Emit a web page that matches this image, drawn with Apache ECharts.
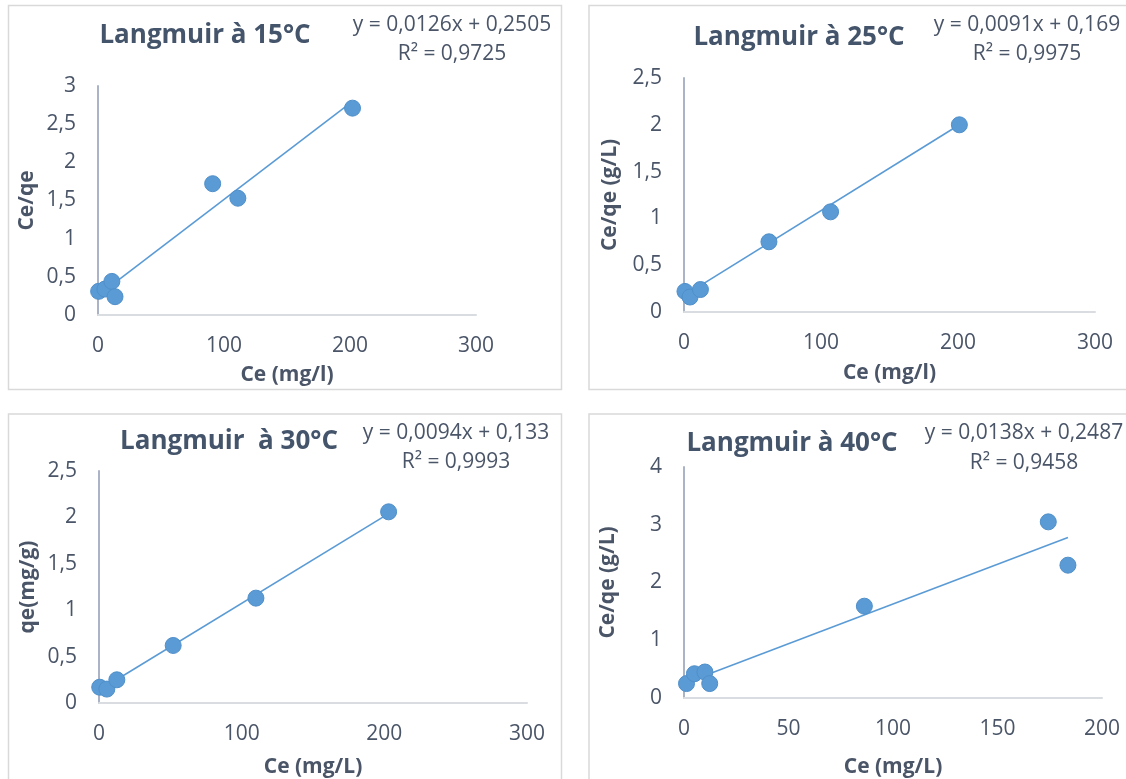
<!DOCTYPE html>
<html>
<head>
<meta charset="utf-8">
<script src="https://cdn.jsdelivr.net/npm/echarts@6/dist/echarts.min.js"></script>
<style>
  html, body { margin: 0; padding: 0; background: #fff; }
  #main { width: 1126px; height: 779px; }
</style>
</head>
<body>
<div id="main"></div>
<script>
const ce15 = [0.5, 5.5, 11, 13.5, 91, 111, 202];
const qe15 = [0.31, 0.34, 0.44, 0.24, 1.72, 1.53, 2.71];
const trend15 = [[0.5, 0.26], [202, 2.80]];

const ce25 = [0.7, 4.4, 12, 62, 107, 201];
const qe25 = [0.22, 0.16, 0.24, 0.75, 1.07, 2.0];
const trend25 = [[0.7, 0.18], [201, 2.0]];

const ce30 = [0.5, 5.5, 12.5, 52, 110, 203];
const qe30 = [0.17, 0.15, 0.25, 0.62, 1.13, 2.06];
const trend30 = [[0.5, 0.14], [203, 2.04]];

const ce40 = [1.2, 5, 10, 12.3, 86.3, 174.3, 183.7];
const qe40 = [0.25, 0.42, 0.45, 0.25, 1.59, 3.05, 2.30];
const trend40 = [[1.2, 0.27], [183.7, 2.78]];

const titles = ['Langmuir à 15°C', 'Langmuir à 25°C', 'Langmuir  à 30°C', 'Langmuir à 40°C'];
const equations = ['y = 0,0126x + 0,2505', 'y = 0,0091x + 0,169', 'y = 0,0094x + 0,133', 'y = 0,0138x + 0,2487'];
const r2 = ['R² = 0,9725', 'R² = 0,9975', 'R² = 0,9993', 'R² = 0,9458'];
const xNames = ['Ce (mg/l)', 'Ce (mg/l)', 'Ce (mg/L)', 'Ce (mg/L)'];
const yNames = ['Ce/qe', 'Ce/qe (g/L)', 'qe(mg/g)', 'Ce/qe (g/L)'];
const xMax = [300, 300, 300, 200];
const xStep = [100, 100, 100, 50];
const yMax = [3, 2.5, 2.5, 4];
const yStep = [0.5, 0.5, 0.5, 1];

const FONT = '"Open Sans", sans-serif';
const blue = '#5b9bd5';
const txt = '#4a5568';

const grids = [
  { left: 98, top: 86, width: 378, height: 229 },
  { left: 684, top: 78, width: 411, height: 234 },
  { left: 99, top: 471, width: 428, height: 232 },
  { left: 684, top: 467, width: 418, height: 231 }
];
const yGaps = [60, 63, 60, 65];
const xGaps = [50, 51, 54, 59];
const titlePos = [[205, 36], [799, 38], [229, 442], [792, 444]];
const eqPos = [[452, 25, 54], [1027, 25, 54], [456, 433, 462], [1024, 433, 463]];
const panels = [[8.5, 5.5, 553, 384], [589, 5.5, 545, 384], [8.5, 414, 553, 380], [589, 414, 545, 380]];

const comma = v => String(v).replace('.', ',');

const chart = echarts.init(document.getElementById('main'), null, { renderer: 'canvas' });

const xAxis = grids.map((g, i) => ({
  gridIndex: i, type: 'value', min: 0, max: xMax[i], interval: xStep[i],
  name: xNames[i], nameLocation: 'middle', nameGap: xGaps[i],
  nameTextStyle: { fontFamily: FONT, fontSize: 21, fontWeight: 'bold', color: txt },
  axisLine: { show: true, onZero: false, lineStyle: { color: '#d9dce1', width: 2 } },
  axisTick: { show: false },
  splitLine: { show: false },
  axisLabel: { fontFamily: FONT, fontSize: 21, color: txt, margin: 21, formatter: comma }
}));

const yAxis = grids.map((g, i) => ({
  gridIndex: i, type: 'value', min: 0, max: yMax[i], interval: yStep[i],
  name: yNames[i], nameLocation: 'middle', nameGap: yGaps[i], nameRotate: 90,
  nameTextStyle: { fontFamily: FONT, fontSize: 21, fontWeight: 'bold', color: txt },
  axisLine: { show: true, onZero: false, lineStyle: { color: '#aab4c6', width: 2 } },
  axisTick: { show: false },
  splitLine: { show: false },
  axisLabel: { fontFamily: FONT, fontSize: 21, color: txt, margin: 22, formatter: comma }
}));

const sets = [[ce15, qe15, trend15], [ce25, qe25, trend25], [ce30, qe30, trend30], [ce40, qe40, trend40]];
const series = [];
sets.forEach((s, i) => {
  series.push({
    type: 'line', xAxisIndex: i, yAxisIndex: i, data: s[2],
    showSymbol: false, silent: true, z: 2,
    lineStyle: { color: blue, width: 1.6 }
  });
  series.push({
    type: 'scatter', xAxisIndex: i, yAxisIndex: i,
    data: s[0].map((x, k) => [x, s[1][k]]),
    symbolSize: 16, z: 3,
    itemStyle: { color: blue, opacity: 1, borderColor: '#4f8fca', borderWidth: 1 }
  });
});

const graphic = [];
panels.forEach(p => {
  graphic.push({
    type: 'rect', shape: { x: p[0], y: p[1], width: p[2], height: p[3] },
    style: { fill: 'none', stroke: '#d9d9d9', lineWidth: 1.5 }, silent: true
  });
});
titles.forEach((t, i) => {
  graphic.push({
    type: 'text', x: titlePos[i][0], y: titlePos[i][1],
    style: { text: t, align: 'center', verticalAlign: 'middle', fill: '#44546a',
      font: 'bold 26px ' + FONT }
  });
  graphic.push({
    type: 'text', x: eqPos[i][0], y: eqPos[i][1],
    style: { text: equations[i], align: 'center', verticalAlign: 'middle', fill: txt,
      font: '21px ' + FONT }
  });
  graphic.push({
    type: 'text', x: eqPos[i][0], y: eqPos[i][2],
    style: { text: r2[i], align: 'center', verticalAlign: 'middle', fill: txt,
      font: '21px ' + FONT }
  });
});

chart.setOption({
  animation: false,
  backgroundColor: '#fff',
  grid: grids,
  xAxis: xAxis,
  yAxis: yAxis,
  series: series,
  graphic: graphic
});
</script>
</body>
</html>
